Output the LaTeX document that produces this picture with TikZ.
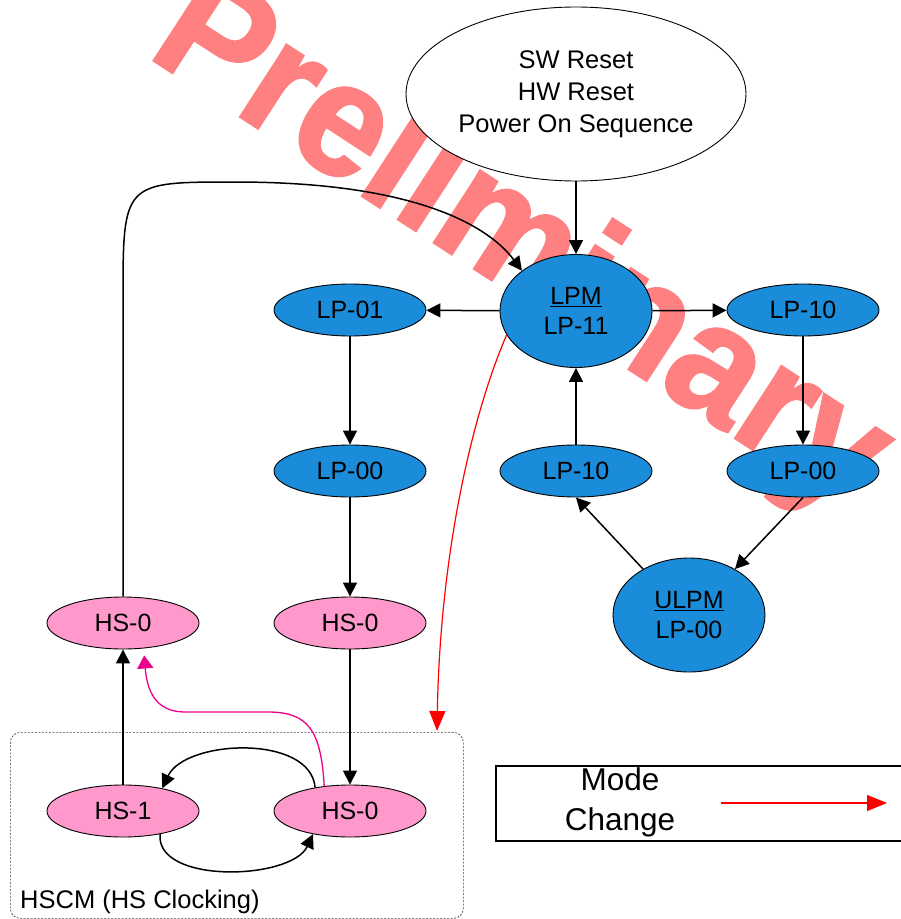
\documentclass[tikz,border=0pt]{standalone}
\usepackage{fontspec}
\setmainfont{Liberation Sans}
\newfontfamily\wmfont{Liberation Sans}[BoldFeatures={FakeStretch=0.95,FakeBold=1.5}]
\usetikzlibrary{arrows.meta}
\usetikzlibrary{shapes.geometric}
\definecolor{lpblue}{RGB}{27,140,217}
\definecolor{hspink}{RGB}{255,153,204}
\definecolor{wmred}{RGB}{255,128,128}
\tikzset{
  st/.style={ellipse, draw, line width=0.9pt, fill=lpblue, minimum width=152pt,
    minimum height=52pt, inner sep=1pt, align=center, font=\fontsize{25}{30}\selectfont},
  hs/.style={st, fill=hspink},
  big/.style={st, minimum height=113pt},
  arr/.style={-{Triangle[length=14pt,width=14pt]}, line width=1.5pt},
  modearr/.style={-{Triangle[length=20pt,width=16pt]}, red, line width=1.2pt},
  hsarr/.style={-{Triangle[length=13pt,width=16pt]}, magenta, line width=1.3pt},
}
\begin{document}
\begin{tikzpicture}[x=1pt,y=1pt]
\useasboundingbox (0,0) rectangle (901,-919);
\clip (0,0) rectangle (901,-919);
\node[rotate=-33, anchor=base west, inner sep=0pt, text=wmred,
  font=\wmfont\bfseries\fontsize{162}{162}\selectfont] (wm) at (145,-55) {Preliminary};

\node[ellipse, draw, line width=0.9pt, fill=white, minimum width=340pt, minimum height=174pt,
  inner sep=0pt, align=center, font=\fontsize{25.5}{32}\selectfont] (reset) at (576,-94)
  {SW Reset\\HW Reset\\Power On Sequence};
\node[big] (lpm) at (576,-311) {\underline{LPM}\\LP-11};
\node[st] (lp01) at (350,-310) {LP-01};
\node[st] (lp10a) at (803,-310) {LP-10};
\node[st] (lp00a) at (350,-471) {LP-00};
\node[st] (lp10b) at (576,-471) {LP-10};
\node[st] (lp00b) at (803,-471) {LP-00};
\node[big, minimum height=114pt] (ulpm) at (689,-615) {\underline{ULPM}\\LP-00};
\node[hs] (hs0a) at (123,-623) {HS-0};
\node[hs] (hs0b) at (350,-623) {HS-0};
\node[hs] (hs1) at (123,-811) {HS-1};
\node[hs] (hs0c) at (350,-811) {HS-0};

\node[draw, black!75, dash pattern=on 2pt off 1.5pt, line width=0.7pt, rounded corners=10pt,
  minimum width=453pt, minimum height=186pt, anchor=north west] (hscm) at (10,-732) {};
\node[anchor=base west, inner sep=0pt, font=\fontsize{25.5}{30}\selectfont] (hscmtxt)
  at (20,-908) {HSCM (HS Clocking)};

\node[draw, line width=1.5pt, minimum width=420pt, minimum height=75pt,
  anchor=north west] (legend) at (495,-765) {};
\node[align=center, font=\fontsize{31.5}{40}\selectfont] (mode) at (620,-802) {Mode\\Change};
\coordinate (ma) at (721,-803);
\coordinate (mb) at (887,-803);
\coordinate (mc) at (437,-731);

\draw[arr] (reset) -- (lpm);
\draw[arr] (lpm) -- (lp01);
\draw[arr] (lpm) -- (lp10a);
\draw[arr] (lp01) -- (lp00a);
\draw[arr] (lp10a) -- (lp00b);
\draw[arr] (lp00b.south) -- (ulpm.45);
\draw[arr] (ulpm.135) -- (lp10b.south);
\draw[arr] (lp10b) -- (lpm);
\draw[arr] (lp00a) -- (hs0b);
\draw[arr] (hs0b) -- (hs0c);
\draw[arr] (hs1) -- (hs0a);
\draw[arr] (hs0c.146) to[out=95,in=65,looseness=0.9] (hs1.30);
\draw[arr] (hs1.-32) to[out=-95,in=-115,looseness=0.85] (hs0c.-148);
\draw[arr] (hs0a) -- (123,-300) .. controls (123,-182) .. (235,-182)
  .. controls (420,-182) and (490,-228) .. (lpm.north west);
\draw[hsarr, shorten >=7pt] (hs0c.136) .. controls (321,-730) and (308,-712) .. (268,-712)
  -- (185,-712) .. controls (155,-712) and (147,-690) .. (hs0a.-51);
\draw[modearr] (lpm.199) .. controls (470,-420) and (440,-560) .. (mc);
\draw[modearr] (ma) -- (mb);
\end{tikzpicture}
\end{document}
